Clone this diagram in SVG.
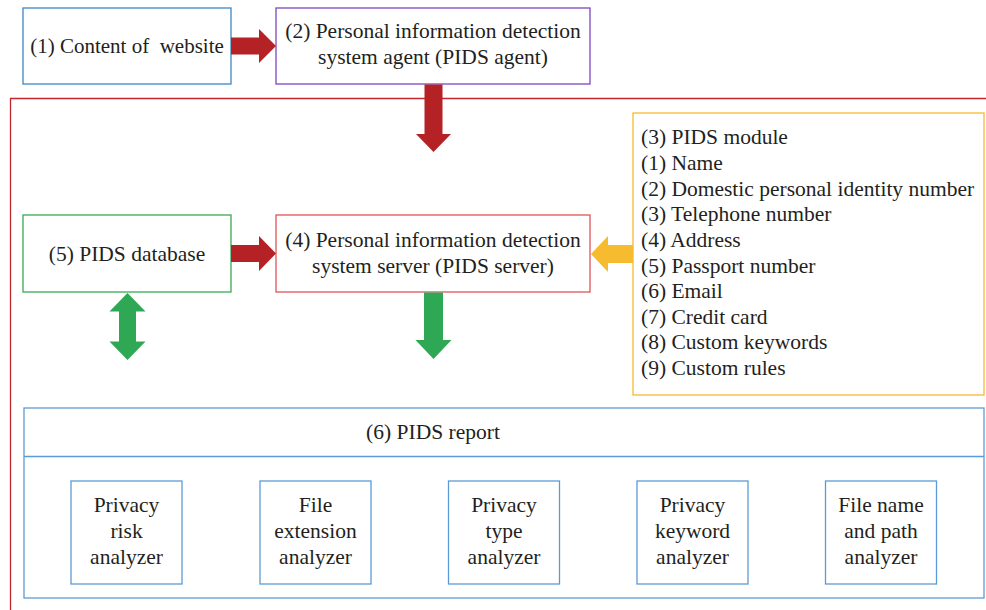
<svg xmlns="http://www.w3.org/2000/svg" width="986" height="610" viewBox="0 0 986 610">
<style>
  text { font-family: 'Liberation Serif', 'DejaVu Serif', serif; font-size: 21.5px; fill: #231f20; }
  .c { text-anchor: middle; }
  .s21 { font-size: 21px; }
  .box { fill: #ffffff; stroke-width: 1.3; }
  .red { fill: #b52226; }
  .green { fill: #2ea855; }
  .yellow { fill: #f6bb2f; }
</style>
<rect width="986" height="610" fill="#ffffff"/>

<!-- container -->
<g id="container">
  <path d="M10.5 610 V98.5 H986" fill="none" stroke="#c0282d" stroke-width="1.3"/>
</g>

<g id="n1">
  <rect class="box" x="23" y="8" width="208" height="76" stroke="#3a87c8"/>
  <text class="c s21" x="127" y="53" style="white-space:pre" xml:space="preserve">(1) Content of  website</text>
</g>

<g id="n2">
  <rect class="box" x="276" y="8" width="314" height="76" stroke="#7d45bd"/>
  <text class="c" x="433" y="38">(2) Personal information detection</text>
  <text class="c" x="433" y="64">system agent (PIDS agent)</text>
</g>

<g id="n5">
  <rect class="box" x="23" y="215" width="208" height="77" stroke="#3aaa52"/>
  <text class="c" x="127" y="261">(5) PIDS database</text>
</g>

<g id="n4">
  <rect class="box" x="276" y="215" width="314" height="77" stroke="#e05558"/>
  <text class="c" x="433" y="247">(4) Personal information detection</text>
  <text class="c" x="433" y="273">system server (PIDS server)</text>
</g>

<g id="n3">
  <rect class="box" x="633" y="113" width="351" height="282" stroke="#f6bb2f"/>
  <text x="641" y="144">(3) PIDS module</text>
  <text x="641" y="170">(1) Name</text>
  <text x="641" y="195.5">(2) Domestic personal identity number</text>
  <text x="641" y="221">(3) Telephone number</text>
  <text x="641" y="247">(4) Address</text>
  <text x="641" y="272.5">(5) Passport number</text>
  <text x="641" y="298">(6) Email</text>
  <text x="641" y="323.5">(7) Credit card</text>
  <text x="641" y="349">(8) Custom keywords</text>
  <text x="641" y="375">(9) Custom rules</text>
</g>

<g id="n6">
  <rect class="box" x="24" y="408" width="960" height="190" stroke="#5b9bd5"/>
  <line x1="24" y1="456.5" x2="984" y2="456.5" stroke="#5b9bd5" stroke-width="1.3"/>
  <text class="c" x="433" y="439">(6) PIDS report</text>
</g>

<g id="a1">
  <rect class="box" x="71" y="481" width="111" height="103" stroke="#5b9bd5"/>
  <text class="c" x="126.5" y="512">Privacy</text>
  <text class="c" x="126.5" y="538">risk</text>
  <text class="c" x="126.5" y="564">analyzer</text>
</g>
<g id="a2">
  <rect class="box" x="260" y="481" width="111" height="103" stroke="#5b9bd5"/>
  <text class="c" x="315.5" y="512">File</text>
  <text class="c" x="315.5" y="538">extension</text>
  <text class="c" x="315.5" y="564">analyzer</text>
</g>
<g id="a3">
  <rect class="box" x="448.5" y="481" width="111" height="103" stroke="#5b9bd5"/>
  <text class="c" x="504" y="512">Privacy</text>
  <text class="c" x="504" y="538">type</text>
  <text class="c" x="504" y="564">analyzer</text>
</g>
<g id="a4">
  <rect class="box" x="637" y="481" width="111" height="103" stroke="#5b9bd5"/>
  <text class="c" x="692.5" y="512">Privacy</text>
  <text class="c" x="692.5" y="538">keyword</text>
  <text class="c" x="692.5" y="564">analyzer</text>
</g>
<g id="a5">
  <rect class="box" x="825.5" y="481" width="111" height="103" stroke="#5b9bd5"/>
  <text class="c" x="881" y="512">File name</text>
  <text class="c" x="881" y="538">and path</text>
  <text class="c" x="881" y="564">analyzer</text>
</g>

<g id="connectors">
  <!-- 1 -> 2 -->
  <polygon class="red" points="231,37.5 259,37.5 259,29 276,46 259,63 259,54.5 231,54.5"/>
  <!-- 2 -> container/server -->
  <polygon class="red" points="424.5,84.5 442.5,84.5 442.5,134 451,134 433.5,152 416,134 424.5,134"/>
  <!-- 5 -> 4 -->
  <polygon class="red" points="231,245 259,245 259,236 276,253.5 259,271 259,262 231,262"/>
  <!-- 3 -> 4 -->
  <polygon class="yellow" points="633,245 608,245 608,236 591,254 608,272 608,263 633,263"/>
  <!-- 5 <-> report -->
  <polygon class="green" points="127.5,293 145.5,311.5 136,311.5 136,341.5 145.5,341.5 127.5,360 109.5,341.5 119,341.5 119,311.5 109.5,311.5"/>
  <!-- 4 -> report -->
  <polygon class="green" points="424,292.5 443,292.5 443,340 451.5,340 433.5,359 415.5,340 424,340"/>
</g>
</svg>
